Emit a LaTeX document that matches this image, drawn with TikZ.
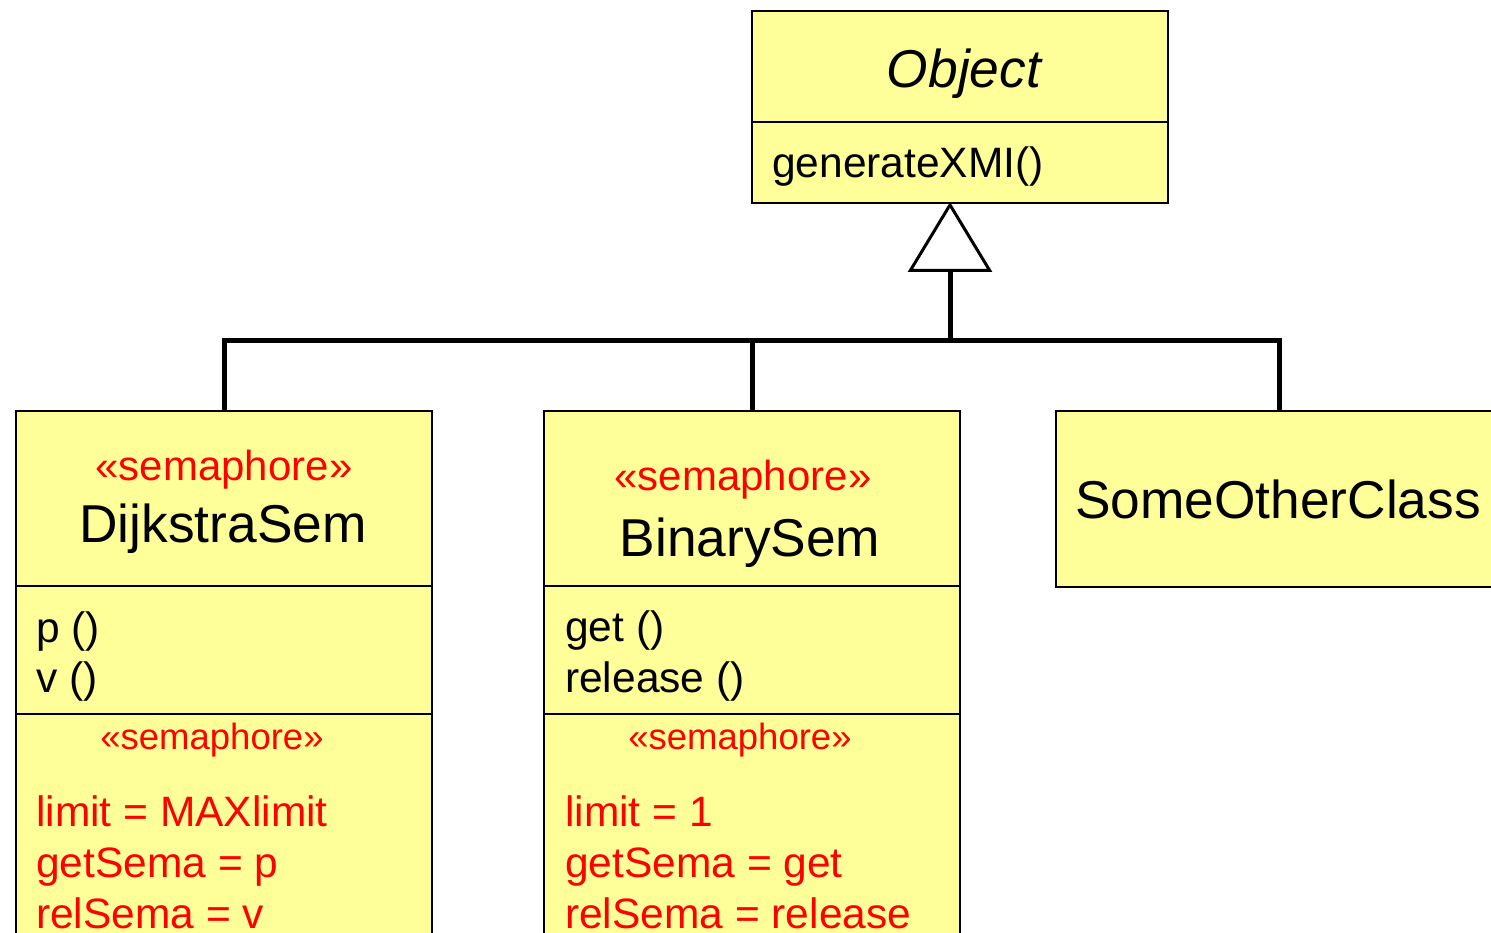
\documentclass[tikz,border=0pt]{standalone}
\usepackage{fontspec}
\setmainfont{Liberation Sans}
\usetikzlibrary{arrows.meta}
\definecolor{clsfill}{HTML}{FFFF99}
\definecolor{stereo}{HTML}{FF0000}
\tikzset{
  cls/.style={draw=black, line width=2pt, fill=clsfill, rectangle, anchor=north west, inner sep=0pt},
  divider/.style={draw=black, line width=2pt},
  conn/.style={draw=black, line width=5pt},
  big/.style={font=\fontsize{53.3}{60}\selectfont, inner sep=0pt},
  mid/.style={font=\fontsize{42.5}{50}\selectfont, inner sep=0pt},
  ster/.style={font=\fontsize{42}{50}\selectfont, text=stereo, inner sep=0pt},
  sters/.style={font=\fontsize{36.5}{44}\selectfont, text=stereo, inner sep=0pt},
  redtxt/.style={font=\fontsize{42.5}{50}\selectfont, text=stereo, inner sep=0pt},
}
\begin{document}
\begin{tikzpicture}[x=1pt, y=-1pt]
\useasboundingbox (0,0) rectangle (1491,933);
\clip (0,0) rectangle (1491,933);
% Object
\node[cls, minimum width=416pt, minimum height=192pt] (object) at (751,10) {};
\draw[divider] (object.west |- 0,122) -- (object.east |- 0,122);
\node[big, anchor=base] (objname) at (964,88) {\itshape Object};
\node[mid, anchor=base west] (gen) at (772,178) {generateXMI()};
% DijkstraSem
\node[cls, minimum width=416pt, minimum height=600pt] (dijk) at (15,410) {};
\draw[divider] (dijk.west |- 0,586) -- (dijk.east |- 0,586);
\draw[divider] (dijk.west |- 0,714) -- (dijk.east |- 0,714);
\node[ster, anchor=base] (dst) at (224,480) {«semaphore»};
\node[big, anchor=base] (dname) at (223,542) {DijkstraSem};
\node[mid, anchor=base west] (dp) at (36,642) {p ()};
\node[mid, anchor=base west] (dv) at (36,692) {v ()};
\node[sters, anchor=base] (dst2) at (212,749) {«semaphore»};
\node[redtxt, anchor=base west] (dl) at (36,826) {limit = MAXlimit};
\node[redtxt, anchor=base west] (dg) at (36,877) {getSema = p};
\node[redtxt, anchor=base west] (dr) at (36,928) {relSema = v};
% BinarySem
\node[cls, minimum width=416pt, minimum height=600pt] (bin) at (543,410) {};
\draw[divider] (bin.west |- 0,586) -- (bin.east |- 0,586);
\draw[divider] (bin.west |- 0,714) -- (bin.east |- 0,714);
\node[ster, anchor=base] (bst) at (743,490) {«semaphore»};
\node[big, anchor=base] (bname) at (750,556) {BinarySem};
\node[mid, anchor=base west] (bg) at (565,641) {get ()};
\node[mid, anchor=base west] (brl) at (565,692) {release ()};
\node[sters, anchor=base] (bst2) at (740,749) {«semaphore»};
\node[redtxt, anchor=base west] (bl) at (565,826) {limit = 1};
\node[redtxt, anchor=base west] (bgs) at (565,877) {getSema = get};
\node[redtxt, anchor=base west] (brs) at (565,928) {relSema = release};
% SomeOtherClass
\node[cls, minimum width=446pt, minimum height=176pt] (other) at (1055,410) {};
\node[big, anchor=base] (oname) at (1278,518) {SomeOtherClass};
% connectors
\coordinate (bus) at (950,340);
\coordinate (apex) at (950,202);
\draw[conn] (dijk.north) |- (bus);
\draw[conn] (bin.north) -- (bin.north |- bus);
\draw[conn] (other.north) |- (bus);
\draw[conn, -{Triangle[length=70pt, width=84pt, fill=white, line width=3pt]}] (bus) -- (apex);
\end{tikzpicture}
\end{document}
